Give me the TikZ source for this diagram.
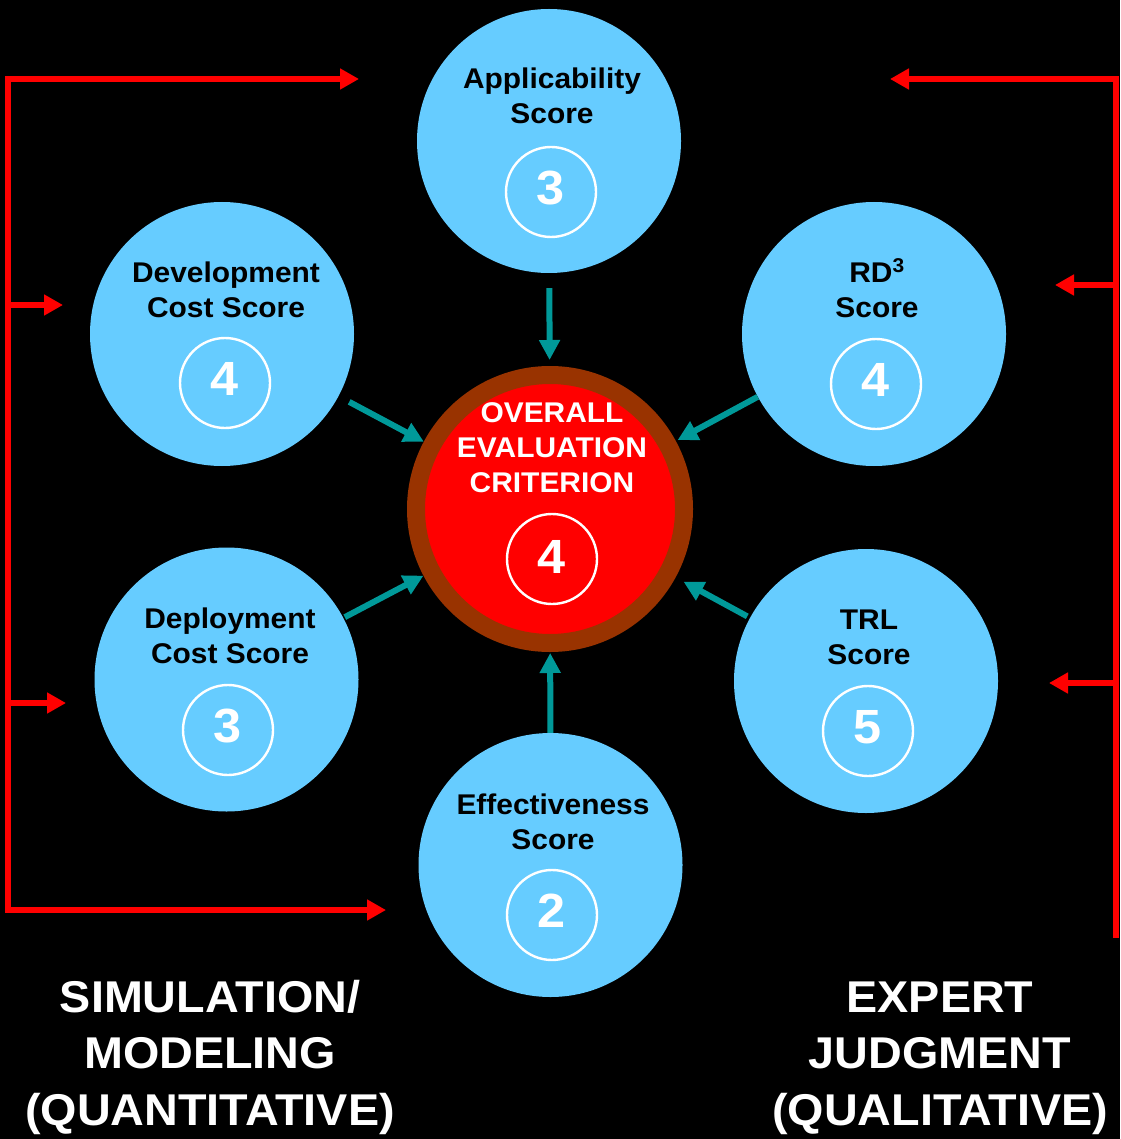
\documentclass[tikz,border=0pt]{standalone}
\usepackage{fontspec}
\setmainfont{Liberation Sans}[FakeStretch=1.05]
\usetikzlibrary{arrows.meta}
\definecolor{skyc}{HTML}{66CCFF}
\definecolor{brownc}{HTML}{993300}
\definecolor{redc}{HTML}{FF0000}
\definecolor{tealc}{HTML}{009999}
\begin{document}
\begin{tikzpicture}[x=1pt,y=-1pt,
  bigc/.style={circle,fill=skyc,minimum size=264pt,inner sep=0pt},
  numc/.style={circle,draw=white,line width=2.4pt,minimum size=90pt,inner sep=0pt,text=white,text height=34.4pt,text depth=10pt,font=\fontsize{48}{48}\selectfont\bfseries},
  lbl/.style={align=center,anchor=base,inner sep=0pt,font=\fontsize{28.5}{35}\selectfont\bfseries},
  biglbl/.style={align=center,anchor=base,inner sep=0pt,text=white,font=\fontsize{44.5}{56.5}\selectfont\bfseries},
  tarrow/.style={draw=tealc,line width=6pt,-{Triangle[length=20pt,width=20pt]}},
  rline/.style={draw=redc,line width=6.5pt},
  rarrow/.style={draw=redc,line width=6.5pt,-{Triangle[length=19pt,width=20pt]}}]
\fill[black] (0,0) rectangle (1120,1139);
\useasboundingbox (0,0) rectangle (1120,1139);

% blue circles
\node[bigc] (app) at (549,141) {};
\node[bigc] (dev) at (222,334) {};
\node[bigc] (rd) at (874,334) {};
\node[bigc] (dep) at (226.5,679.5) {};
\node[bigc] (trl) at (866,681) {};
\node[bigc] (eff) at (550.5,865) {};
% centre circle
\node[circle,draw=brownc,line width=18pt,fill=redc,minimum size=268pt,inner sep=0pt] (oec) at (550,509) {};

% labels (anchor = baseline of last line)
\node[lbl] (lapp) at (552,124) {Applicability\\Score};
\node[lbl] (ldev) at (226,317) {Development\\Cost Score};
\node[lbl] (lrd) at (877,317) {RD\textsuperscript{3}\\Score};
\node[lbl] (ldep) at (230,663) {Deployment\\Cost Score};
\node[lbl] (ltrl) at (869,664) {TRL\\Score};
\node[lbl] (leff) at (553,849) {Effectiveness\\Score};
\node[lbl,text=white] (loec) at (552,492) {OVERALL\\EVALUATION\\CRITERION};

% numbers
\node[numc] (napp) at (551,192) {3};
\node[numc] (ndev) at (225,383) {4};
\node[numc] (nrd) at (876,384) {4};
\node[numc] (ndep) at (228,730) {3};
\node[numc] (ntrl) at (868,731) {5};
\node[numc] (neff) at (552,915) {2};
\node[numc,text depth=5pt] (noec) at (552,559) {4};

% teal arrows
\draw[tarrow,shorten <=15pt,shorten >=6pt] (app) -- (oec);
\draw[tarrow,shorten <=12pt] (dev) -- (oec);
\draw[tarrow,shorten >=2pt] (rd) -- (oec);
\draw[tarrow,shorten <=1.5pt] (dep) -- (oec);
\draw[tarrow,shorten <=3pt,shorten >=9pt] (trl) -- (oec);
\draw[tarrow,shorten >=1pt] (eff) -- (oec);

% red brackets
\coordinate (lt) at (8,79);
\coordinate (lb) at (8,910);
\coordinate (ltip1) at (359,79);
\coordinate (ltip4) at (386,910);
\coordinate (lm2) at (8,305);
\coordinate (ltip2) at (63,305);
\coordinate (lm3) at (8,703);
\coordinate (ltip3) at (66,703);
\draw[rline,{Triangle[length=19pt,width=20pt]}-{Triangle[length=19pt,width=20pt]}] (ltip1) -- (lt) -- (lb) -- (ltip4);
\draw[rarrow] (lm2) -- (ltip2);
\draw[rarrow] (lm3) -- (ltip3);

\coordinate (rt) at (1116,79);
\coordinate (rb) at (1116,938);
\coordinate (rtip1) at (890,79);
\coordinate (rm2) at (1116,285);
\coordinate (rtip2) at (1055,285);
\coordinate (rm3) at (1116,683);
\coordinate (rtip3) at (1049,683);
\draw[rline,{Triangle[length=19pt,width=20pt]}-] (rtip1) -- (rt) -- (rb);
\draw[rarrow] (rm2) -- (rtip2);
\draw[rarrow] (rm3) -- (rtip3);

% bottom labels
\node[biglbl] (sim) at (210,1125) {SIMULATION/\\MODELING\\(QUANTITATIVE)};
\node[biglbl] (exp) at (940,1125) {EXPERT\\JUDGMENT\\(QUALITATIVE)};
\end{tikzpicture}
\end{document}
